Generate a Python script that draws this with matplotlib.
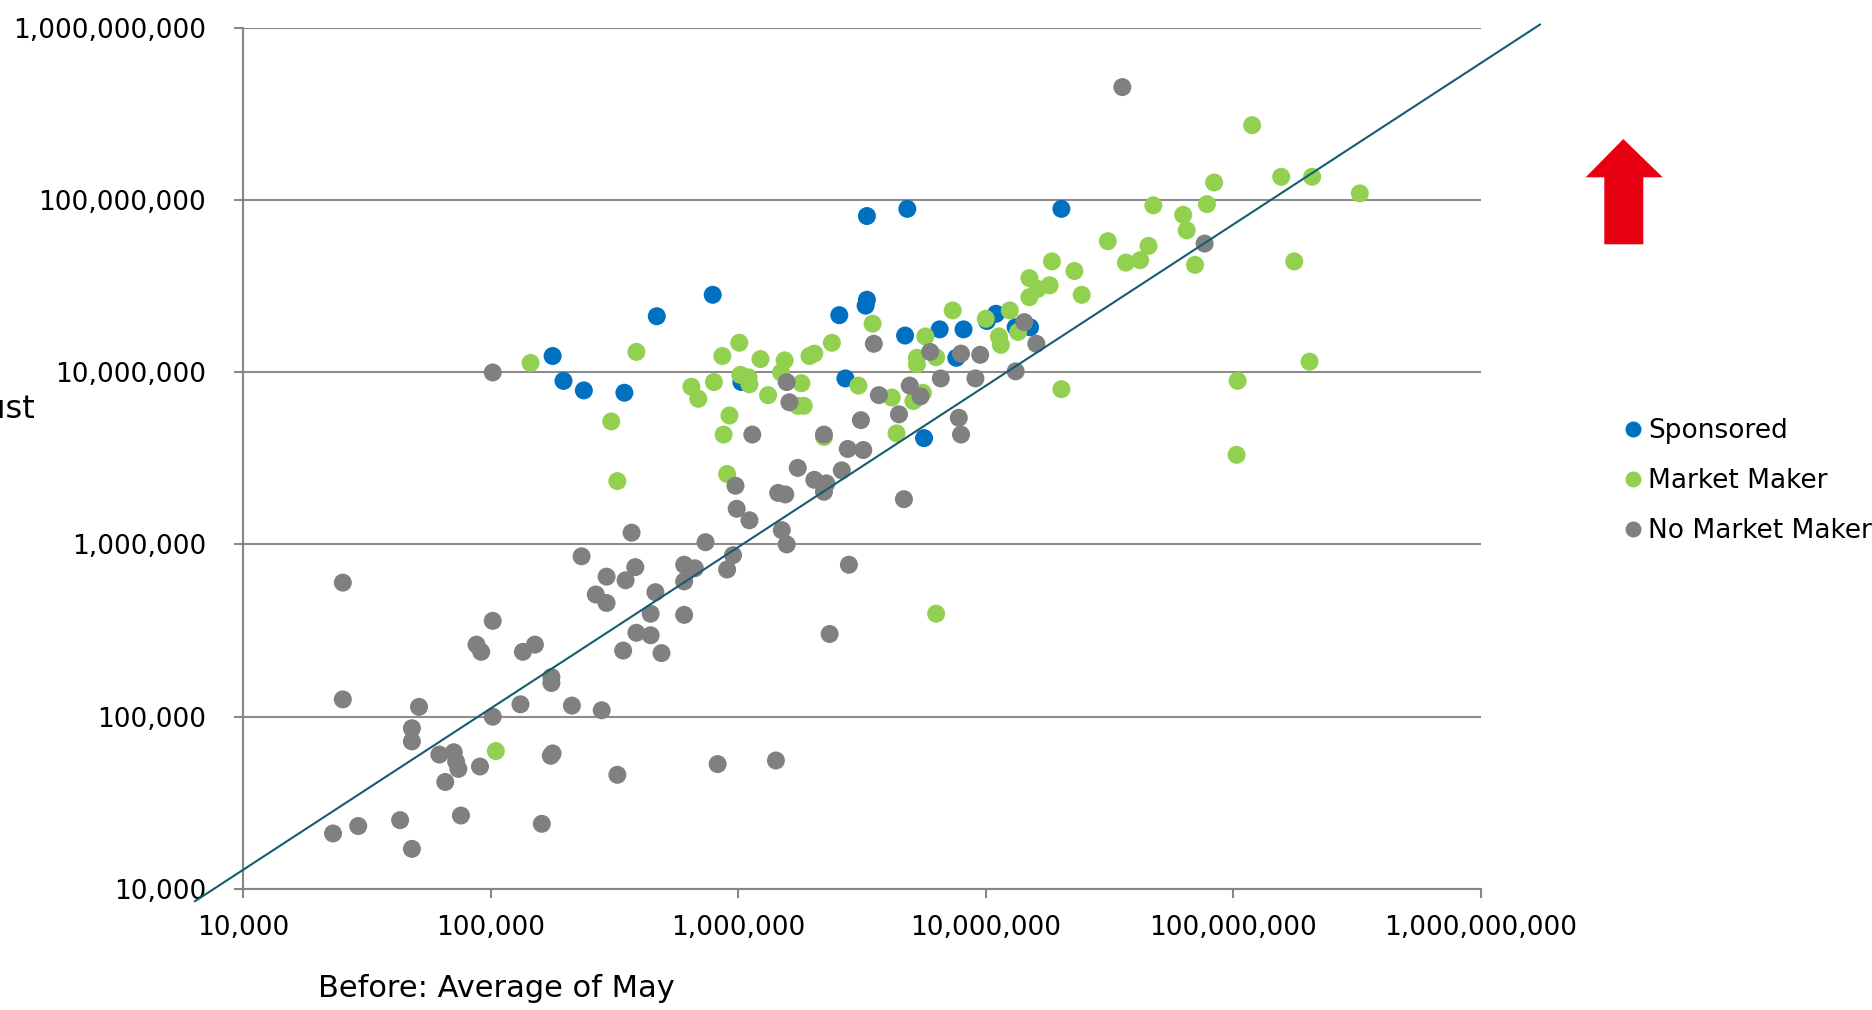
import matplotlib.pyplot as plt
from matplotlib.lines import Line2D
from matplotlib.patches import Polygon
from matplotlib.ticker import FuncFormatter, LogLocator, NullLocator

# Sponsored names
sponsored_before = [1.78e5, 1.97e5, 2.38e5, 3.47e5, 4.69e5, 7.89e5, 1.03e6, 2.56e6, 2.71e6, 3.31e6,
                    3.31e6, 3.27e6, 4.82e6, 4.72e6, 5.63e6, 6.51e6, 8.13e6, 7.60e6, 1.01e7, 1.10e7,
                    1.32e7, 1.51e7, 2.02e7]
sponsored_after = [1.24e7, 8.89e6, 7.83e6, 7.59e6, 2.11e7, 2.81e7, 8.76e6, 2.14e7, 9.19e6, 8.05e7,
                   2.63e7, 2.43e7, 8.86e7, 1.63e7, 4.14e6, 1.77e7, 1.77e7, 1.21e7, 1.98e7, 2.18e7,
                   1.82e7, 1.82e7, 8.86e7]

# names with a market maker
mm_before = [1.05e5, 1.45e5, 3.88e5, 3.07e5, 3.25e5, 6.47e5, 6.90e5, 7.98e5, 8.63e5, 1.01e6,
             1.02e6, 1.10e6, 1.11e6, 9.22e5, 8.73e5, 9.02e5, 1.23e6, 1.32e6, 1.54e6, 1.49e6,
             1.80e6, 1.74e6, 1.84e6, 1.94e6, 2.03e6, 2.39e6, 2.22e6, 3.06e6, 3.49e6, 4.17e6,
             4.36e6, 5.10e6, 5.57e6, 5.70e6, 5.27e6, 5.27e6, 6.30e6, 6.30e6, 7.35e6, 1.00e7,
             1.13e7, 1.15e7, 1.25e7, 1.35e7, 1.50e7, 1.50e7, 1.62e7, 1.81e7, 1.85e7, 2.02e7,
             2.28e7, 2.44e7, 3.11e7, 3.68e7, 4.20e7, 4.54e7, 4.75e7, 6.27e7, 6.48e7, 7.00e7,
             7.82e7, 8.36e7, 1.04e8, 1.03e8, 1.19e8, 1.56e8, 1.76e8, 2.03e8, 2.08e8, 3.24e8]
mm_after = [6.32e4, 1.13e7, 1.31e7, 5.17e6, 2.33e6, 8.22e6, 7.00e6, 8.75e6, 1.24e7, 1.48e7,
            9.64e6, 9.33e6, 8.49e6, 5.60e6, 4.34e6, 2.56e6, 1.19e7, 7.35e6, 1.17e7, 9.95e6,
            8.62e6, 6.37e6, 6.37e6, 1.24e7, 1.28e7, 1.48e7, 4.20e6, 8.35e6, 1.91e7, 7.12e6,
            4.41e6, 6.79e6, 7.59e6, 1.61e7, 1.21e7, 1.11e7, 1.22e7, 3.96e5, 2.28e7, 2.04e7,
            1.61e7, 1.44e7, 2.28e7, 1.71e7, 3.51e7, 2.72e7, 3.04e7, 3.19e7, 4.39e7, 7.96e6,
            3.86e7, 2.81e7, 5.75e7, 4.32e7, 4.46e7, 5.40e7, 9.29e7, 8.18e7, 6.65e7, 4.19e7,
            9.44e7, 1.26e8, 8.90e6, 3.31e6, 2.71e8, 1.36e8, 4.39e7, 1.15e7, 1.36e8, 1.09e8]

# names without a market maker
nomm_before = [2.53e4, 2.53e4, 5.14e4, 4.81e4, 4.81e4, 6.21e4, 7.10e4, 7.26e4, 7.41e4, 9.06e4,
               6.56e4, 7.59e4, 2.31e4, 2.92e4, 4.31e4, 4.81e4, 1.02e5, 8.77e4, 9.16e4, 1.02e5,
               1.02e5, 1.35e5, 1.51e5, 1.32e5, 1.76e5, 1.76e5, 1.75e5, 1.78e5, 2.13e5, 2.81e5,
               3.25e5, 1.61e5, 8.26e5, 1.42e6, 2.33e5, 3.71e5, 2.94e5, 3.84e5, 3.51e5, 2.66e5,
               2.94e5, 4.63e5, 4.43e5, 3.88e5, 4.43e5, 3.43e5, 4.90e5, 6.05e5, 6.05e5, 6.68e5,
               6.05e5, 7.38e5, 9.02e5, 9.53e5, 9.75e5, 9.86e5, 1.11e6, 1.14e6, 1.74e6, 1.45e6,
               1.55e6, 1.50e6, 1.57e6, 2.03e6, 2.27e6, 2.22e6, 2.62e6, 2.77e6, 3.20e6, 2.80e6,
               2.34e6, 2.22e6, 1.57e6, 1.61e6, 3.13e6, 3.53e6, 3.70e6, 4.46e6, 4.67e6, 4.93e6,
               5.45e6, 5.96e6, 6.58e6, 7.94e6, 9.49e6, 9.08e6, 1.43e7, 1.60e7, 1.32e7, 7.78e6,
               7.94e6, 3.56e7, 7.65e7]
nomm_after = [6.00e5, 1.26e5, 1.14e5, 8.57e4, 7.19e4, 6.03e4, 6.22e4, 5.48e4, 4.98e4, 5.14e4,
              4.18e4, 2.67e4, 2.10e4, 2.32e4, 2.51e4, 1.71e4, 3.60e5, 2.62e5, 2.38e5, 1.00e5,
              9.95e6, 2.38e5, 2.62e5, 1.18e5, 1.70e5, 1.57e5, 5.93e4, 6.12e4, 1.16e5, 1.09e5,
              4.60e4, 2.39e4, 5.31e4, 5.57e4, 8.53e5, 1.17e6, 6.50e5, 7.38e5, 6.19e5, 5.12e5,
              4.57e5, 5.28e5, 3.96e5, 3.07e5, 2.97e5, 2.42e5, 2.34e5, 3.90e5, 7.62e5, 7.27e5,
              6.10e5, 1.03e6, 7.15e5, 8.66e5, 2.19e6, 1.61e6, 1.38e6, 4.34e6, 2.78e6, 1.99e6,
              1.95e6, 1.21e6, 1.00e6, 2.37e6, 2.26e6, 2.02e6, 2.69e6, 3.58e6, 3.53e6, 7.62e5,
              3.02e5, 4.34e6, 8.75e6, 6.68e6, 5.26e6, 1.46e7, 7.35e6, 5.69e6, 1.83e6, 8.35e6,
              7.23e6, 1.31e7, 9.19e6, 1.28e7, 1.26e7, 9.19e6, 1.95e7, 1.46e7, 1.01e7, 5.43e6,
              4.34e6, 4.51e8, 5.57e7]

# reference line drawn across the chart
trend_before = [6.4e3, 1.73e9]
trend_after = [8.5e3, 1.04e9]

series = [
    ("Sponsored", sponsored_before, sponsored_after, "#0070C0"),
    ("Market Maker", mm_before, mm_after, "#92D050"),
    ("No Market Maker", nomm_before, nomm_after, "#808080"),
]

axis_grey = "#868686"

fig = plt.figure(figsize=(18.72, 10.10), dpi=100, facecolor="white")
ax = fig.add_axes([0.12981, 0.11980, 0.66132, 0.85297])

for name, xs, ys, color in series:
    ax.scatter(xs, ys, s=168, color=color, edgecolors="none", zorder=3)

ax.plot(trend_before, trend_after, color="#125E70", lw=1.5, clip_on=False, zorder=4)

ax.set_xscale("log")
ax.set_yscale("log")
ax.set_xlim(1e4, 1e9)
ax.set_ylim(1e4, 1e9)
for axis in (ax.xaxis, ax.yaxis):
    axis.set_major_locator(LogLocator(base=10, numticks=10))
    axis.set_minor_locator(NullLocator())
    axis.set_major_formatter(FuncFormatter(lambda v, p: f"{v:,.0f}"))

ax.yaxis.grid(True, color="#8C8C8C", lw=1.5)
ax.set_axisbelow(True)
for side in ("top", "right"):
    ax.spines[side].set_visible(False)
for side in ("left", "bottom"):
    ax.spines[side].set_color(axis_grey)
    ax.spines[side].set_linewidth(1.5)

ax.tick_params(axis="both", which="major", direction="out", length=6.5, width=1.5,
               color=axis_grey, labelsize=19, labelcolor="black")
ax.tick_params(axis="x", pad=12.5)
ax.tick_params(axis="y", pad=20)

fig.text(0.2652, 0.0132, "Before: Average of May", fontsize=22, ha="center", va="baseline")
fig.text(0.0185, 0.5861, "After: Average of August", fontsize=23, ha="right", va="baseline")

handles = [Line2D([], [], ls="", marker="o", ms=11.5, color=c, markeredgewidth=0)
           for _, _, _, c in series]
labels = [name for name, _, _, _ in series]
ax.legend(handles, labels, loc="upper left", bbox_to_anchor=(0.8681, 0.5862),
          bbox_transform=fig.transFigure, frameon=False, fontsize=19,
          handlelength=0.6, handletextpad=0.27, labelspacing=0.92,
          borderpad=0, borderaxespad=0)

# red "up" arrow to the right of the plot
arrow = Polygon([(0.86715, 0.86238), (0.88819, 0.82446), (0.87784, 0.82446),
                 (0.87784, 0.75812), (0.85700, 0.75812), (0.85700, 0.82446),
                 (0.84706, 0.82446)],
                closed=True, transform=fig.transFigure, facecolor="#E60012",
                edgecolor="none")
fig.add_artist(arrow)

fig.savefig("out.png", dpi=100, facecolor="white")
